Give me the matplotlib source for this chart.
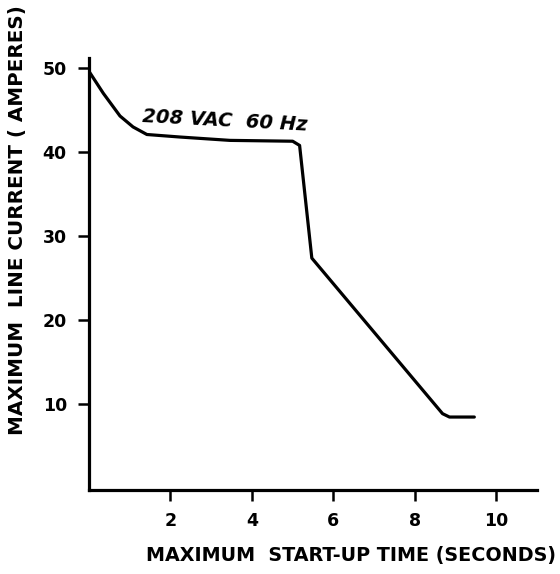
import matplotlib
matplotlib.use("Agg")
import matplotlib.pyplot as plt

# Data
time_s = [0.0, 0.35, 0.76, 1.08, 1.42, 2.23, 3.46, 5.0, 5.17, 5.47, 8.68, 8.85, 9.46]
current_a = [49.6, 47.0, 44.3, 43.0, 42.1, 41.8, 41.4, 41.3, 40.8, 27.4, 8.9, 8.5, 8.5]

x_ticks = [2, 4, 6, 8, 10]
y_ticks = [10, 20, 30, 40, 50]
x_label = "MAXIMUM  START-UP TIME (SECONDS)"
y_label = "MAXIMUM  LINE CURRENT ( AMPERES)"
annotation = "208 VAC  60 Hz"

fig = plt.figure(figsize=(5.6, 5.74), dpi=100)
ax = fig.add_axes([0.159, 0.146, 0.8, 0.753])

ax.plot(time_s, current_a, color="black", lw=2.3, solid_joinstyle="round", solid_capstyle="round")

ax.set_xlim(0, 11)
ax.set_ylim(-0.2, 51.2)
ax.set_xticks(x_ticks)
ax.set_yticks(y_ticks)
ax.set_xticklabels([str(v) for v in x_ticks], fontsize=12.5, fontweight="bold")
ax.set_yticklabels([str(v) for v in y_ticks], fontsize=12.5, fontweight="bold")
ax.tick_params(axis="both", direction="out", length=8, width=1.8, pad=8)

for s in ["top", "right"]:
    ax.spines[s].set_visible(False)
for s in ["left", "bottom"]:
    ax.spines[s].set_linewidth(2.3)

ax.text(1.3, 43.7, annotation, fontsize=14, style="italic", fontweight="semibold",
        rotation=-3, ha="left", va="center")

fig.text(0.627, 0.033, x_label, ha="center", va="center", fontsize=13.8, fontweight="bold")
fig.text(0.032, 0.617, y_label, ha="center", va="center", fontsize=14.3, fontweight="bold",
         rotation=90)

fig.savefig("out.png", dpi=100, facecolor="white")
